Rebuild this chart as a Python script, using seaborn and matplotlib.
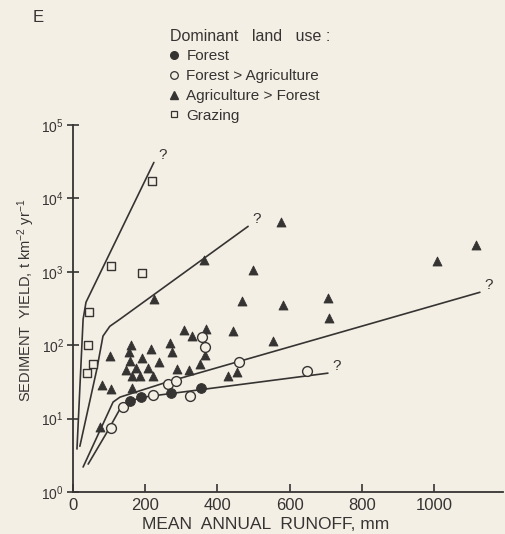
import numpy as np
import pandas as pd
import matplotlib
matplotlib.use("Agg")
import matplotlib.pyplot as plt
import seaborn as sns
from matplotlib.lines import Line2D

# ---------------- data ----------------
forest_x = [158, 188, 271, 355]
forest_y = [17.5, 19.6, 22.2, 26]

fa_x = [105, 139, 222, 263, 285, 324, 357, 366, 460, 648]
fa_y = [7.4, 14.3, 21, 30, 33, 20.2, 128, 94, 59, 44]

agri_x = [75, 80, 105, 102, 163, 161, 155, 158, 147, 175,
          163, 186, 222, 208, 191, 216, 238, 269, 274, 288,
          307, 330, 368, 443, 366, 352, 321, 429, 454, 554,
          709, 706, 582, 468, 499, 576, 1008, 1116, 363, 224]
agri_y = [7.7, 29, 25, 71, 26, 100, 80, 61, 46, 49,
          38, 38, 38, 49, 67, 88, 59, 106, 80, 47,
          160, 133, 165, 155, 73, 55, 46, 38, 43, 113,
          233, 436, 350, 397, 1050, 4700, 1390, 2290, 1430, 420]

graz_x = [219, 105, 191, 44, 42, 55, 39]
graz_y = [17000, 1190, 955, 280, 100, 55, 42]

# fitted curves (vertices)
graz_line_x = [11, 28, 36, 224]
graz_line_y = [3.85, 226, 385, 30900]
agri_line_x = [19, 66, 83, 102, 130, 485]
agri_line_y = [4.2, 47, 133, 181, 226, 4160]
fa_line_x = [28, 111, 130, 260, 1127]
fa_line_y = [2.19, 16.8, 19.6, 31.4, 526]
forest_line_x = [42, 94, 130, 158, 194, 706]
forest_line_y = [2.4, 6.5, 13.5, 17.3, 19.6, 41.6]

x_ticks = [0, 200, 400, 600, 800, 1000]
y_ticks = [1, 10, 100, 1000, 10000, 100000]
y_tick_labels = ["$10^0$", "$10^1$", "$10^2$", "$10^3$", "$10^4$", "$10^5$"]
legend_labels = ["Forest", "Forest > Agriculture", "Agriculture > Forest", "Grazing"]

# ---------------- style ----------------
sns.set_style("ticks")
paper = "#f4efe5"
ink = "#363433"
plt.rcParams["font.family"] = ["Liberation Sans", "DejaVu Sans"]
plt.rcParams["mathtext.fontset"] = "custom"
plt.rcParams["mathtext.rm"] = "Liberation Sans"
plt.rcParams["mathtext.it"] = "Liberation Sans"

fig = plt.figure(figsize=(5.06, 5.34), dpi=100, facecolor=paper)
ax = fig.add_axes([73 / 506, 1 - 492 / 534, 430 / 506, 367 / 534])
ax.set_facecolor(paper)

lw = 1.2
for lx, ly in [(graz_line_x, graz_line_y), (agri_line_x, agri_line_y),
               (fa_line_x, fa_line_y), (forest_line_x, forest_line_y)]:
    sns.lineplot(x=lx, y=ly, sort=False, estimator=None, color=ink, lw=lw, ax=ax)
    ax.annotate("?", (lx[-1], ly[-1]), xytext=(3, 0), textcoords="offset points",
                fontsize=11, color=ink, ha="left", va="bottom")

sns.scatterplot(x=agri_x, y=agri_y, marker="^", s=42, color=ink, edgecolor=ink,
                linewidth=0.6, ax=ax, zorder=3)
sns.scatterplot(x=graz_x, y=graz_y, marker="s", s=34, facecolor=paper, edgecolor=ink,
                linewidth=1.0, ax=ax, zorder=3)
sns.scatterplot(x=fa_x, y=fa_y, marker="o", s=50, facecolor=paper, edgecolor=ink,
                linewidth=1.0, ax=ax, zorder=4)
sns.scatterplot(x=forest_x, y=forest_y, marker="o", s=50, color=ink, edgecolor=ink,
                linewidth=0.6, ax=ax, zorder=4)

ax.set_yscale("log")
ax.set_xlim(0, 1191)
ax.set_ylim(1, 1e5)
ax.set_xticks(x_ticks)
ax.set_xticklabels([str(t) for t in x_ticks])
ax.set_yticks(y_ticks)
ax.set_yticklabels(y_tick_labels)
ax.yaxis.set_minor_locator(matplotlib.ticker.NullLocator())
for s in ["top", "right"]:
    ax.spines[s].set_visible(False)
for s in ["left", "bottom"]:
    ax.spines[s].set_color(ink)
    ax.spines[s].set_linewidth(1.3)
ax.tick_params(axis="x", direction="in", length=6, width=1.2, colors=ink,
               labelsize=12, pad=4)
ax.tick_params(axis="y", direction="inout", length=9, width=1.2, colors=ink,
               labelsize=10, pad=2)

ax.set_xlabel("MEAN  ANNUAL  RUNOFF, mm", fontsize=12.5, color=ink)
ax.xaxis.set_label_coords(0.447, -0.068)
ax.set_ylabel("SEDIMENT  YIELD, t km$^{-2}$ yr$^{-1}$", fontsize=10.5, color=ink)
ax.yaxis.set_label_coords(-0.084, 0.523)

fig.text(38 / 506, 1 - 18 / 534, "E", fontsize=12, color=ink, ha="center", va="center")

handles = [
    Line2D([], [], ls="", marker="o", ms=5.5, mfc=ink, mec=ink),
    Line2D([], [], ls="", marker="o", ms=5.5, mfc=paper, mec=ink, mew=0.9),
    Line2D([], [], ls="", marker="^", ms=5.5, mfc=ink, mec=ink),
    Line2D([], [], ls="", marker="s", ms=5, mfc=paper, mec=ink, mew=0.9),
]
leg = fig.legend(handles, legend_labels, title="Dominant   land   use :",
                 loc="upper left", bbox_to_anchor=(165 / 506, 1 - 24 / 534),
                 frameon=False, fontsize=11, title_fontsize=11.5, alignment="left",
                 handlelength=0.6, handletextpad=0.5, labelspacing=0.38,
                 borderpad=0.3, borderaxespad=0)
for t in leg.get_texts():
    t.set_color(ink)
leg.get_title().set_color(ink)

fig.savefig("out.png", dpi=100, facecolor=paper)
